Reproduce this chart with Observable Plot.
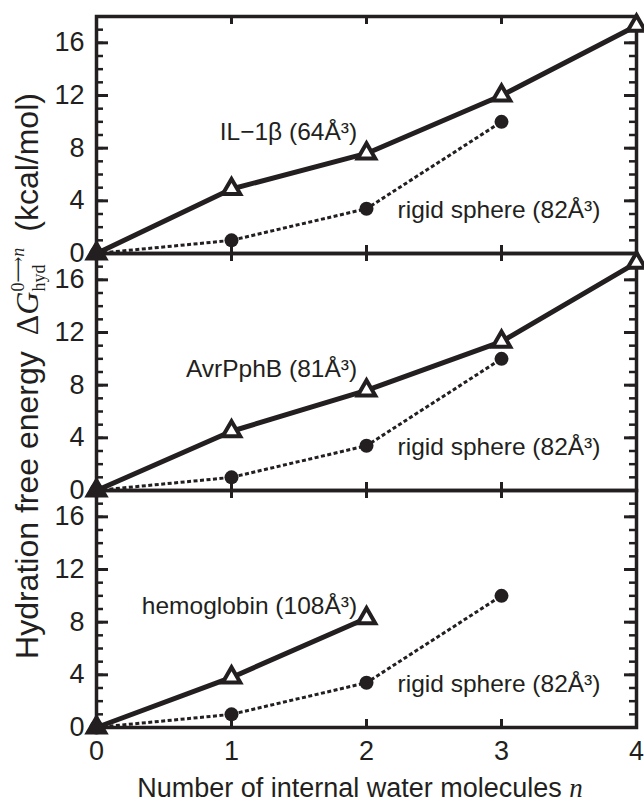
<!DOCTYPE html>
<html><head><meta charset="utf-8">
<script src="https://cdn.jsdelivr.net/npm/d3@7"></script>
<script src="https://cdn.jsdelivr.net/npm/@observablehq/plot@0.6"></script>
<style>body{margin:0;background:#fff} svg{display:block}</style>
</head><body><div id="chart"></div>
<script>
// ---- data ----
const panels = ["IL−1β (64Å³)", "AvrPphB (81Å³)", "hemoglobin (108Å³)"];
const proteinN = [0, 1, 2, 3, 4];
const il1b = [0, 4.9, 7.6, 12.0, 17.3];
const avrpphb = [0, 4.5, 7.6, 11.3, 17.3];
const hemoglobinN = [0, 1, 2];
const hemoglobin = [0, 3.8, 8.3];
const sphereN = [0, 1, 2, 3];
const sphere = [0, 1.0, 3.4, 10.0];
const sphereLabel = "rigid sphere (82Å³)";
const xTicks = [0, 1, 2, 3, 4];
const xInnerTicks = [1, 2, 3];
const yTicks = [0, 4, 8, 12, 16];
const yMinor = d3.range(0, 19);
const xTitle = "Number of internal water molecules ";
const xTitleVar = "n";
const yTitleLeft = "Hydration free energy";
const yTitleRight = "(kcal/mol)";

const proteinRows = [
  ...proteinN.map((n, i) => ({panel: panels[0], n, dg: il1b[i]})),
  ...proteinN.map((n, i) => ({panel: panels[1], n, dg: avrpphb[i]})),
  ...hemoglobinN.map((n, i) => ({panel: panels[2], n, dg: hemoglobin[i]}))
];
const sphereRows = panels.flatMap(p => sphereN.map((n, i) => ({panel: p, n, dg: sphere[i]})));
const minorRows = panels.flatMap(p => yMinor.map(v => ({panel: p, v})));
const majorRows = panels.flatMap(p => yTicks.map(v => ({panel: p, v})));
const xTickRows = panels.flatMap(p => xInnerTicks.map(v => ({panel: p, v})));

const ink = "#231f20";
const sans = "'Liberation Sans', Arial, Helvetica, sans-serif";
const serif = "'Liberation Serif', 'DejaVu Serif', 'Times New Roman', serif";
const intFmt = d => String(d);

const W = 644, H = 802, mL = 96, mR = 8, mT = 15, mB = 75;
const xMin = 0, xMax = 4, yMin = 0, yMax = 18;
const frameW = W - mL - mR;
const facetH = (H - mT - mB) / panels.length;
// tick lengths in pixels, converted to data units of each scale
const minorLen = 7, majorLen = 12, xTickLen = 8;
const pxX = (xMax - xMin) / frameW;
const pxY = (yMax - yMin) / facetH;

const plot = Plot.plot({
  width: W,
  height: H,
  marginLeft: mL,
  marginRight: mR,
  marginTop: mT,
  marginBottom: mB,
  style: {fontFamily: sans, fontSize: "24px", color: ink},
  x: {domain: [xMin, xMax], axis: null},
  y: {domain: [yMin, yMax], axis: null},
  fy: {domain: panels, padding: 0, axis: null},
  marks: [
    // inward ticks on left / right edges of every panel
    Plot.ruleY(minorRows, {y: "v", fy: "panel", x1: () => xMin, x2: () => xMin + minorLen * pxX, stroke: ink, strokeWidth: 2.5}),
    Plot.ruleY(majorRows, {y: "v", fy: "panel", x1: () => xMin, x2: () => xMin + majorLen * pxX, stroke: ink, strokeWidth: 3}),
    Plot.ruleY(minorRows, {y: "v", fy: "panel", x1: () => xMax - minorLen * pxX, x2: () => xMax, stroke: ink, strokeWidth: 2.5}),
    Plot.ruleY(majorRows, {y: "v", fy: "panel", x1: () => xMax - majorLen * pxX, x2: () => xMax, stroke: ink, strokeWidth: 3}),
    // inward ticks on top / bottom edges of every panel
    Plot.ruleX(xTickRows, {x: "v", fy: "panel", y1: () => yMin, y2: () => yMin + xTickLen * pxY, stroke: ink, strokeWidth: 3}),
    Plot.ruleX(xTickRows, {x: "v", fy: "panel", y1: () => yMax - xTickLen * pxY, y2: () => yMax, stroke: ink, strokeWidth: 3}),
    Plot.axisY({anchor: "left", ticks: yTicks, tickSize: 0, tickPadding: 12, tickFormat: intFmt, label: null, fontSize: 27, fill: ink}),
    Plot.axisX({anchor: "bottom", ticks: xTicks, tickSize: 0, tickPadding: 13, tickFormat: intFmt, label: null, fontSize: 27, fill: ink}),
    Plot.frame({stroke: ink, strokeWidth: 3.5}),
    Plot.line(sphereRows, {x: "n", y: "dg", fy: "panel", stroke: ink, strokeWidth: 3, strokeDasharray: "4,2.5", strokeLinecap: "butt"}),
    Plot.line(proteinRows, {x: "n", y: "dg", fy: "panel", stroke: ink, strokeWidth: 5}),
    Plot.dot(proteinRows, {x: "n", y: "dg", fy: "panel", symbol: "triangle", r: 6.5, fill: "white", stroke: ink, strokeWidth: 4}),
    Plot.dot(sphereRows, {x: "n", y: "dg", fy: "panel", r: 7, fill: ink, stroke: "none"}),
    Plot.text(panels, {fy: d => d, x: () => 1.93, y: () => 9.2, text: d => d, textAnchor: "end", fontSize: 24.5, fill: ink}),
    Plot.text(panels, {fy: d => d, x: () => 2.23, y: () => 3.3, text: () => sphereLabel, textAnchor: "start", fontSize: 24.5, fill: ink})
  ]
});
document.getElementById("chart").appendChild(plot);

const svg = d3.select(plot);
// x title
const xt = svg.append("text")
  .attr("x", 360).attr("y", 797)
  .attr("text-anchor", "middle")
  .attr("font-family", sans).attr("font-size", 27).attr("fill", ink);
xt.append("tspan").text(xTitle);
xt.append("tspan").attr("font-family", serif).attr("font-style", "italic").text(xTitleVar);

// y title
const yt = svg.append("text")
  .attr("transform", "translate(38,376) rotate(-90)")
  .attr("text-anchor", "middle")
  .attr("font-family", sans).attr("font-size", 32).attr("fill", ink);
yt.append("tspan").text(yTitleLeft);
yt.append("tspan").attr("dx", 16).attr("font-family", serif).text("Δ");
yt.append("tspan").attr("font-family", serif).attr("font-style", "italic").text("G");
const sub = yt.append("tspan").attr("font-family", serif).attr("font-size", 18).attr("dy", 7).text("hyd");
const subW = sub.node().getComputedTextLength();
const sup = yt.append("tspan").attr("font-family", serif).attr("font-size", 18).attr("dy", -21).attr("dx", -subW);
sup.append("tspan").text("0⟶");
sup.append("tspan").attr("font-style", "italic").text("n");
yt.append("tspan").attr("dy", 14).attr("dx", 16).text(yTitleRight);
</script>
</body></html>
